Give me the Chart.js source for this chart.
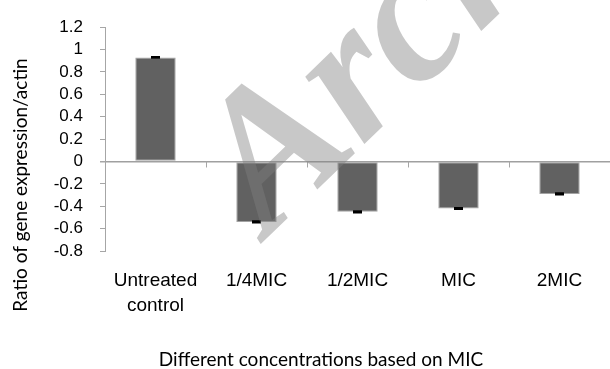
<!DOCTYPE html>
<html>
<head>
<meta charset="utf-8">
<script src="https://cdn.jsdelivr.net/npm/chart.js@4.4.1/dist/chart.umd.min.js"></script>
<style>
	html, body { margin: 0; padding: 0; background: #fff; }
	#wrap { width: 610px; height: 369px; position: relative; }
</style>
</head>
<body>
<div id="wrap"><canvas id="geneChart"></canvas></div>
<script>
const categories = [['Untreated', 'control'], '1/4MIC', '1/2MIC', 'MIC', '2MIC'];
const ratios = [0.93, -0.54, -0.45, -0.42, -0.29];
const errors = [0.004, 0.006, 0.005, 0.004, 0.005];
const yMin = -0.8;
const yMax = 1.2;
const yStep = 0.2;
const yTitle = 'Ratio of gene expression/actin';
const xTitle = 'Different concentrations based on MIC';
const watermark = 'Archive';

const extras = {
	id: 'extras',
	afterDatasetsDraw(chart) {
		const ctx = chart.ctx;
		const x = chart.scales.x;
		const y = chart.scales.y;
		const y0 = y.getPixelForValue(0);

		// petites graduations sous la ligne zéro
		ctx.save();
		ctx.strokeStyle = '#a6a6a6';
		ctx.lineWidth = 1;
		for (let i = 0; i < categories.length - 1; i++) {
			const px = Math.round(x.getPixelForValue(i + 0.5)) + 0.5;
			ctx.beginPath();
			ctx.moveTo(px, y0);
			ctx.lineTo(px, y0 + 6);
			ctx.stroke();
		}

		// barres d'erreur
		const meta = chart.getDatasetMeta(0);
		ctx.strokeStyle = '#000';
		ctx.lineWidth = 2;
		meta.data.forEach((bar, i) => {
			const hi = y.getPixelForValue(ratios[i] + errors[i]);
			const lo = y.getPixelForValue(ratios[i] - errors[i]);
			ctx.beginPath();
			ctx.moveTo(bar.x, hi);
			ctx.lineTo(bar.x, lo);
			ctx.moveTo(bar.x - 4.5, hi);
			ctx.lineTo(bar.x + 4.5, hi);
			ctx.moveTo(bar.x - 4.5, lo);
			ctx.lineTo(bar.x + 4.5, lo);
			ctx.stroke();
		});
		ctx.restore();
	},
	afterDraw(chart) {
		const ctx = chart.ctx;
		ctx.save();
		ctx.fillStyle = '#000';
		ctx.font = '19px Lato';
		ctx.textAlign = 'center';
		ctx.textBaseline = 'alphabetic';
		ctx.fillText(xTitle, 321, 366);

		ctx.translate(27, 185);
		ctx.rotate(-Math.PI / 2);
		ctx.fillText(yTitle, 0, 0);
		ctx.restore();

		// filigrane
		ctx.save();
		ctx.translate(268, 237);
		ctx.rotate(-44 * Math.PI / 180);
		ctx.font = 'italic bold 195px "Liberation Serif"';
		ctx.fillStyle = 'rgba(128, 128, 128, 0.43)';
		ctx.textAlign = 'left';
		ctx.textBaseline = 'alphabetic';
		ctx.fillText(watermark, 0, 0);
		ctx.restore();
	}
};

new Chart(document.getElementById('geneChart').getContext('2d'), {
	type: 'bar',
	data: {
		labels: categories,
		datasets: [{
			data: ratios,
			backgroundColor: '#616161',
			borderColor: '#a3a3a3',
			borderWidth: 1,
			borderSkipped: false,
			barPercentage: 0.4,
			categoryPercentage: 1
		}]
	},
	options: {
		responsive: true,
		maintainAspectRatio: false,
		animation: false,
		layout: { padding: { top: 24, right: 0, bottom: 0, left: 0 } },
		plugins: {
			legend: { display: false },
			tooltip: { enabled: false }
		},
		scales: {
			x: {
				grid: { display: false, drawTicks: false },
				border: { display: false },
				ticks: {
					color: '#000',
					font: { family: 'Liberation Sans', size: 19, lineHeight: 1.32 },
					padding: 17,
					maxRotation: 0,
					autoSkip: false
				},
				afterFit(scale) { scale.height = 118; }
			},
			y: {
				min: yMin,
				max: yMax,
				grid: {
					drawOnChartArea: true,
					color: ctx => (ctx.tick && ctx.tick.value === 0 ? '#a0a0a0' : 'rgba(0,0,0,0)'),
					lineWidth: ctx => (ctx.tick && ctx.tick.value === 0 ? 1.5 : 1),
					tickColor: '#a6a6a6',
					tickLength: 5
				},
				border: { display: true, color: '#a6a6a6', width: 1 },
				ticks: {
					stepSize: yStep,
					autoSkip: false,
					color: '#000',
					font: { family: 'Liberation Sans', size: 17 },
					padding: 17,
					callback: v => String(Math.round(v * 10) / 10)
				},
				afterFit(scale) { scale.width = 105; }
			}
		}
	},
	plugins: [extras]
});
</script>
</body>
</html>
